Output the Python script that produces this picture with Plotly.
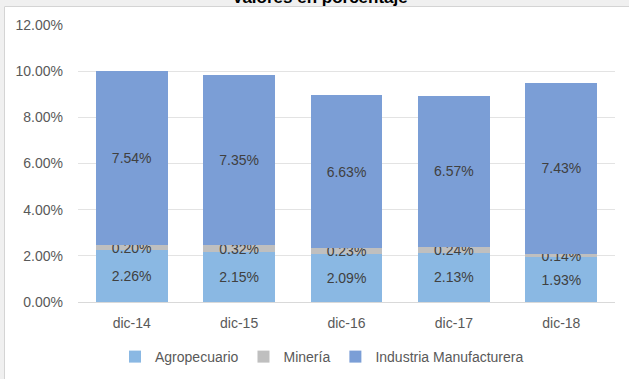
import plotly.graph_objects as go

# Participación por sector (valores en porcentaje, como fracción)
periodos = ["dic-14", "dic-15", "dic-16", "dic-17", "dic-18"]
agropecuario = [0.0226, 0.0215, 0.0209, 0.0213, 0.0193]
mineria = [0.0020, 0.0032, 0.0023, 0.0024, 0.0014]
industria = [0.0754, 0.0735, 0.0663, 0.0657, 0.0743]

series = [
    ("Agropecuario", agropecuario, "#8ab8e3"),
    ("Minería", mineria, "#bfbfbf"),
    ("Industria Manufacturera", industria, "#7b9ed6"),
]

W, H = 629, 379
ML, MR, MT, MB = 78, 14, 25, 77
PW, PH = W - ML - MR, H - MT - MB


def px_x(p):
    return (p - ML) / PW


def px_y(p):
    return (H - MB - p) / PH


FONT = "Liberation Sans, Arial, sans-serif"

fig = go.Figure()
for nombre, valores, color in series:
    fig.add_trace(go.Bar(
        name=nombre,
        x=periodos,
        y=valores,
        marker=dict(color=color, line=dict(width=0)),
        texttemplate="%{y:.2%}",
        textposition="inside",
        insidetextanchor="middle",
        textfont=dict(family=FONT, size=14, color="#404040"),
        hoverinfo="skip",
    ))

fig.update_layout(
    width=W,
    height=H,
    barmode="stack",
    bargap=0.33,
    margin=dict(l=ML, r=MR, t=MT, b=MB, pad=0, autoexpand=False),
    paper_bgcolor="white",
    plot_bgcolor="white",
    font=dict(family=FONT, size=14, color="#595959"),
    uniformtext=dict(minsize=14, mode="show"),
    showlegend=True,
    legend=dict(
        orientation="h",
        x=px_x(322),
        xanchor="center",
        y=px_y(357),
        yanchor="middle",
        font=dict(family=FONT, size=14, color="#595959"),
        itemwidth=30,
        traceorder="normal",
    ),
    xaxis=dict(
        showgrid=False,
        showline=True,
        linecolor="#d9d9d9",
        linewidth=1,
        ticks="",
        ticklabelstandoff=8,
        tickfont=dict(size=14, color="#595959"),
    ),
    yaxis=dict(
        range=[0, 0.12],
        dtick=0.02,
        tickformat=".2%",
        showgrid=True,
        gridcolor="#e3e3e3",
        gridwidth=1,
        zeroline=False,
        ticks="",
        ticklabelstandoff=14,
        tickfont=dict(size=14, color="#595959"),
    ),
    shapes=[
        # banda superior gris con su borde
        dict(type="rect", xref="paper", yref="paper",
             x0=px_x(0), x1=px_x(W), y0=px_y(6.5), y1=px_y(0),
             fillcolor="#f0f0f0", line=dict(width=0), layer="above"),
        dict(type="line", xref="paper", yref="paper",
             x0=px_x(4.5), x1=px_x(W), y0=px_y(6.5), y1=px_y(6.5),
             line=dict(color="#d4d4d4", width=1), layer="above"),
        # banda izquierda gris con su borde
        dict(type="rect", xref="paper", yref="paper",
             x0=px_x(0), x1=px_x(4.5), y0=px_y(H), y1=px_y(0),
             fillcolor="#f0f0f0", line=dict(width=0), layer="above"),
        dict(type="line", xref="paper", yref="paper",
             x0=px_x(4.5), x1=px_x(4.5), y0=px_y(H), y1=px_y(6.5),
             line=dict(color="#d4d4d4", width=1), layer="above"),
    ],
    annotations=[
        dict(
            text="<b>Valores en porcentaje</b>",
            xref="paper", yref="paper",
            x=px_x(320), y=px_y(9),
            xanchor="center", yanchor="bottom",
            showarrow=False,
            font=dict(family=FONT, size=17, color="#000000"),
        )
    ],
)

fig.write_html("out.html")
